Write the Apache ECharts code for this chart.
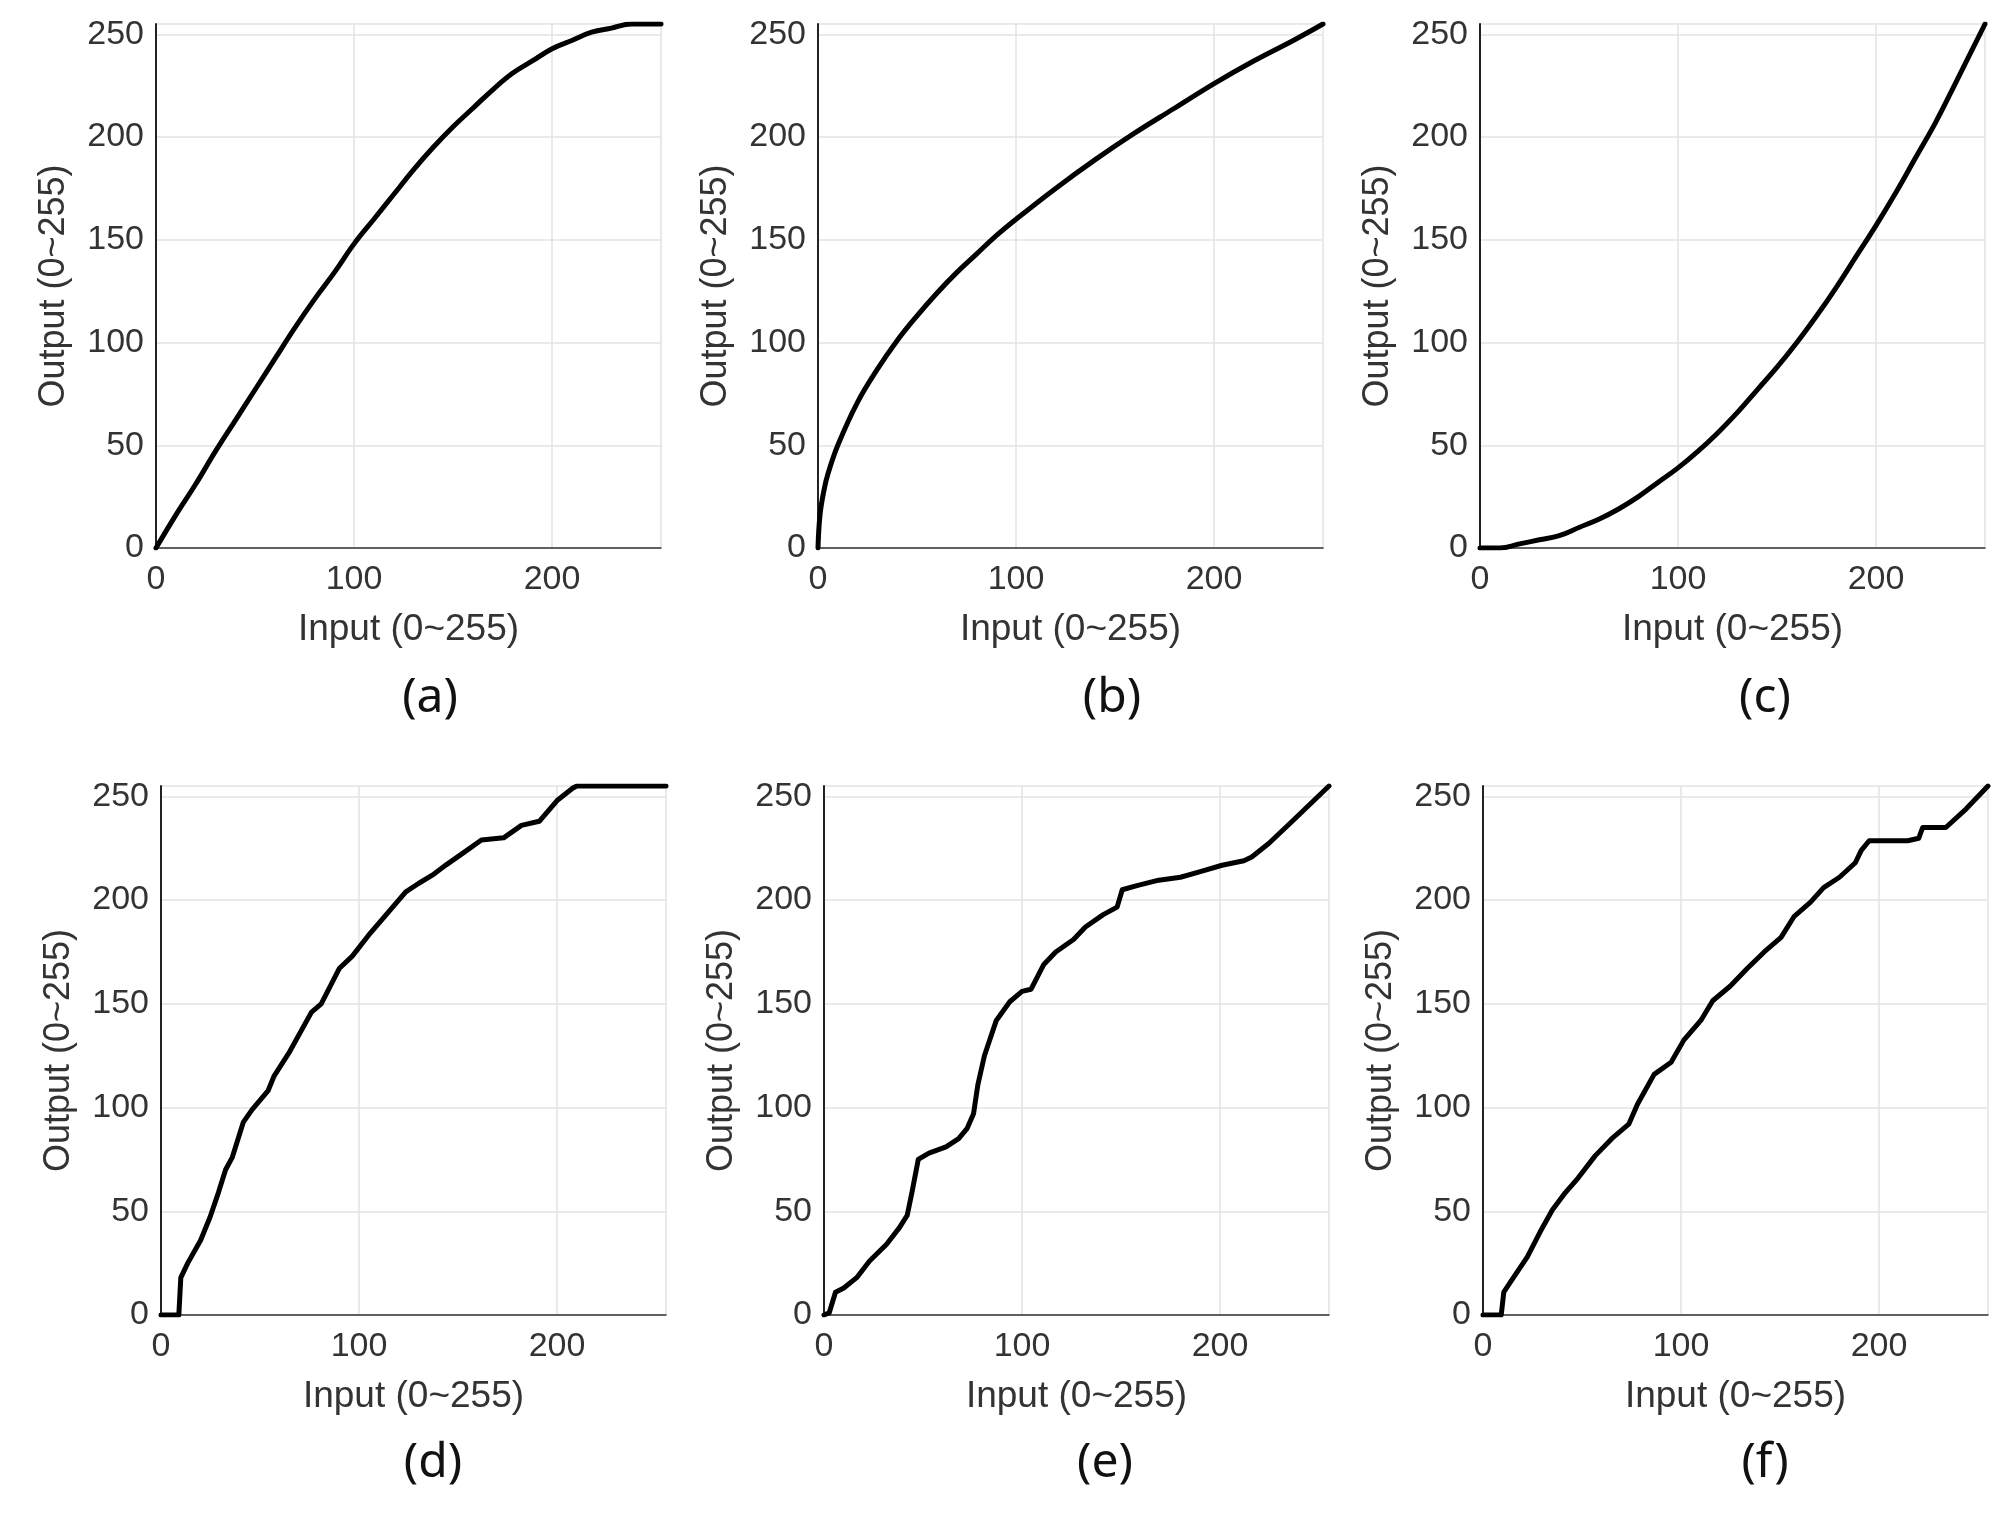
<!DOCTYPE html>
<html><head><meta charset="utf-8">
<style>html,body{margin:0;padding:0;background:#fff}#c{width:2000px;height:1528px}</style>
<script src="https://cdn.jsdelivr.net/npm/echarts@6/dist/echarts.min.js"></script>
</head><body><div id="c"></div>
<script>
// ---- data ----
const panelLabels = ['(a)','(b)','(c)','(d)','(e)','(f)'];
const xTicks = [0,100,200];
const yTicks = [0,50,100,150,200,250];
const curveA = [[0,0],[10,16],[20,31],[30,47],[40,62],[50,77],[60,92],[70,107],[80,121],[90,134],[100,148],[110,160],[120,172],[130,184],[140,195],[150,205],[160,214],[170,223],[180,231],[190,237],[200,243],[210,247],[220,251],[230,253],[240,255],[255,255]];
const curveB = [[0,0],[1,16],[3,28],[5,36],[10,50],[20,71],[30,87],[40,101],[50,113],[60,124],[70,134],[80,143],[90,152],[100,160],[120,175],[140,189],[160,202],[180,214],[200,226],[220,237],[240,247],[255,255]];
const curveC = [[0,0],[10,0],[20,2],[30,4],[40,6],[50,10],[60,14],[70,19],[80,25],[90,32],[100,39],[110,47],[120,56],[130,66],[140,77],[150,88],[160,100],[170,113],[180,127],[190,142],[200,157],[210,173],[220,190],[230,207],[240,226],[255,255]];
const curveD = [[0,0],[9,0],[10,18],[13.5,25],[20,36],[24.7,47],[29,59],[32.6,70],[36,76],[41.6,93],[46,99],[54,108],[57,115],[65,127],[76,146],[80.9,150],[90,167],[96.6,173],[105.6,184],[114.6,194],[123.6,204],[130,208],[137,212],[144,217],[153,223],[161.8,229],[173,230],[182,236],[191,238],[200,248],[208,254],[210,255],[255,255]];
const curveE = [[0,0],[2.6,1],[5.8,11],[10,13],[16.5,18],[23,26],[31.5,34],[38,42],[42,48],[44.4,59],[47.6,75],[53,78],[61.6,81],[68,85],[72.3,90],[75.5,97],[77.7,111],[81,125],[87,142],[93.8,151],[100,156],[104.5,157],[111,169],[117,175],[126,181],[132,187],[141,193],[148,196.6],[150.6,205],[158,207],[169,209.6],[180,211],[190,213.7],[201,216.8],[212,219],[216,220.8],[224.7,227.4],[237.5,239],[255,255]];
const curveF = [[0,0],[9.2,0],[10.5,11],[13.9,16],[22.4,28],[28.8,40],[35,50.6],[41.6,59],[48,66],[56.6,76.7],[65,85],[73.6,92],[78,101.6],[86.4,116],[95,121.8],[101.4,132.5],[110,142],[116,151.5],[124.9,158.6],[133.4,167],[142,175],[150.5,182],[157,192],[165.4,199],[172,206],[180,211],[188,218],[191,224],[195,228.6],[214.5,228.6],[220,229.8],[222,235],[233.7,235],[244,244],[255,255]];
const curves = [curveA, curveB, curveC, curveD, curveE, curveF];

// ---- layout ----
const lefts = [156, 818, 1480, 161, 824, 1483];
const tops = [24, 24, 24, 786, 786, 786];
const heights = [524, 524, 524, 529, 529, 529];
const W = 505;
const labelPos = [[425,702],[1107,702],[1760,702],[428,1467],[1100,1467],[1760,1467]];

const chart = echarts.init(document.getElementById('c'));
const grid = [], xAxis = [], yAxis = [], series = [], title = [];
const axisFont = 'Liberation Sans, Arial, sans-serif';
for (let i = 0; i < 6; i++) {
  grid.push({left: lefts[i], top: tops[i], width: W, height: heights[i], containLabel: false});
  xAxis.push({
    type: 'value', gridIndex: i, min: 0, max: 255, interval: 100,
    name: 'Input (0~255)', nameLocation: 'middle', nameGap: 63,
    nameTextStyle: {fontFamily: axisFont, fontSize: 37, color: '#333'},
    axisLine: {show: true, lineStyle: {color: '#333', width: 1.5}},
    axisTick: {show: false},
    axisLabel: {fontFamily: axisFont, fontSize: 34, color: '#333', margin: 15,
      formatter: v => xTicks.indexOf(v) >= 0 ? String(v) : ''},
    splitLine: {show: true, lineStyle: {color: '#e3e3e3', width: 1.5}}
  });
  yAxis.push({
    type: 'value', gridIndex: i, min: 0, max: 255, interval: 50,
    name: 'Output (0~255)', nameLocation: 'middle', nameGap: 84,
    nameTextStyle: {fontFamily: axisFont, fontSize: 36, color: '#333'},
    axisLine: {show: true, lineStyle: {color: '#222', width: 2}},
    axisTick: {show: false},
    axisLabel: {fontFamily: axisFont, fontSize: 34, color: '#333', margin: 12,
      formatter: v => yTicks.indexOf(v) >= 0 ? String(v) : ''},
    splitLine: {show: true, lineStyle: {color: '#e3e3e3', width: 1.5}}
  });
  series.push({
    type: 'line', xAxisIndex: i, yAxisIndex: i, data: curves[i],
    showSymbol: false, smooth: i < 3 ? 0.4 : false, animation: false,
    lineStyle: {color: '#000', width: 5, join: 'round', cap: 'round'}
  });
  title.push({
    text: panelLabels[i], left: labelPos[i][0], top: labelPos[i][1] - 33, textAlign: 'center',
    textStyle: {fontFamily: 'Noto Sans', fontSize: 48, fontWeight: 'normal', color: '#111'}
  });
}
chart.setOption({animation: false, title, grid, xAxis, yAxis, series});
</script></body></html>
